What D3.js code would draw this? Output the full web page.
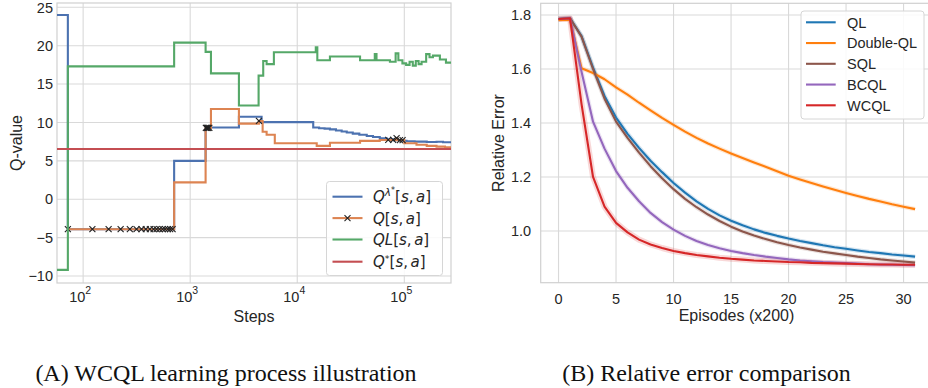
<!DOCTYPE html>
<html>
<head>
<meta charset="utf-8">
<title>WCQL learning process / relative error</title>
<script src="https://d3js.org/d3.v7.min.js"></script>
<style>
  body { margin: 0; background: #fff; }
  svg text { font-family: "Liberation Sans", Arial, sans-serif; fill: #262626; }
  .grid line { stroke: #d9d9d9; stroke-width: 1.1; }
  .frame { fill: none; stroke: #d0d0d0; stroke-width: 1.2; }
  .math { font-family: "DejaVu Sans", sans-serif; font-size: 15px; }
  .caption { font-family: "Liberation Serif", "Times New Roman", serif; font-size: 24px; fill: #111; }
</style>
</head>
<body>
<script>
// ---------- (A) learning process: values are step functions over log(steps) ----------
var qlamSteps = [50, 72, 708, 1393, 2852, 4645, 14100, 16000, 18000, 20200, 23000, 26000, 29000, 33000, 38000, 44600,
                 51000, 59000, 68500, 80000, 92000, 105000, 125000, 162000, 200000, 230000, 273000];
var qlamVals  = [24.0, -3.9, 5.0, 9.35, 10.75, 10.05, 9.35, 9.25, 9.2, 9.1, 8.95, 8.82, 8.7, 8.55, 8.4, 8.24,
                 8.1, 7.95, 7.82, 7.7, 7.62, 7.55, 7.5, 7.45, 7.48, 7.42, 7.42];

var qSteps = [72, 708, 1393, 1563, 2852, 4385, 4750, 5175, 6170, 15200, 20200, 38600, 59000, 84000, 86000,
              100000, 130000, 162000, 200000, 240000, 273000];
var qVals  = [-3.9, 2.2, 9.3, 11.75, 9.85, 10.2, 8.8, 8.4, 7.3, 6.95, 7.35, 7.6, 7.72, 7.95, 7.7,
              7.3, 7.1, 6.95, 6.85, 6.75, 6.75];
// steps where Q[s,a] carries an "x" marker
var qMarkSteps = [72, 122, 173, 224, 273, 315, 351, 385, 420, 455, 485, 517, 552, 583, 619, 650, 685,
                  1400, 1425, 1450, 1475, 1510, 4385, 70800, 78700, 84700, 91000, 96400];

var qlSteps = [50, 72, 708, 1393, 1563, 2852, 4355, 4810, 5175, 6050, 14900, 15400, 20200, 38600, 53000, 55000,
               73400, 83000, 88000, 96000, 104000, 112000, 120000, 128000, 136000, 145000, 160000, 172000,
               185000, 215000, 245000, 273000];
var qlVals  = [-9.2, 17.3, 20.4, 19.2, 16.4, 12.2, 16.1, 18.0, 17.6, 19.15, 19.8, 18.1, 18.6, 18.1, 18.9, 18.1,
               17.9, 19.0, 18.1, 17.7, 17.5, 17.9, 17.4, 18.0, 17.6, 17.9, 18.9, 18.5,
               18.7, 18.2, 17.8, 17.8];

var qStar = 6.55;

var leftYTicks = [-10, -5, 0, 5, 10, 15, 20, 25];
var leftXTicks = [100, 1000, 10000, 100000];

// ---------- (B) relative error vs episodes (x200) ----------
var episodes = d3.range(0, 32);
var errQL     = [1.785, 1.788, 1.722, 1.605, 1.500, 1.420, 1.360, 1.308, 1.260, 1.218, 1.178, 1.142, 1.110, 1.082, 1.058, 1.038,
                 1.021, 1.006, 0.993, 0.982, 0.972, 0.963, 0.955, 0.947, 0.940, 0.934, 0.928, 0.922, 0.918, 0.913, 0.909, 0.905];
var errDouble = [1.782, 1.782, 1.603, 1.585, 1.562, 1.532, 1.505, 1.475, 1.447, 1.419, 1.393, 1.368, 1.345, 1.324, 1.305, 1.287,
                 1.270, 1.254, 1.238, 1.221, 1.205, 1.191, 1.178, 1.165, 1.153, 1.141, 1.130, 1.119, 1.109, 1.099, 1.090, 1.081];
var errSQL    = [1.785, 1.788, 1.720, 1.600, 1.490, 1.405, 1.345, 1.290, 1.240, 1.195, 1.155, 1.119, 1.088, 1.061, 1.037, 1.016,
                 0.998, 0.983, 0.970, 0.958, 0.948, 0.939, 0.931, 0.923, 0.917, 0.911, 0.905, 0.900, 0.895, 0.891, 0.887, 0.883];
var errBCQL   = [1.785, 1.788, 1.590, 1.405, 1.305, 1.222, 1.160, 1.110, 1.067, 1.033, 1.005, 0.982, 0.963, 0.948, 0.936, 0.926,
                 0.918, 0.911, 0.905, 0.900, 0.895, 0.891, 0.888, 0.885, 0.883, 0.881, 0.879, 0.877, 0.876, 0.875, 0.874, 0.873];
var errWCQL   = [1.785, 1.788, 1.470, 1.200, 1.090, 1.030, 0.995, 0.968, 0.950, 0.937, 0.926, 0.918, 0.911, 0.906, 0.901, 0.897,
                 0.894, 0.891, 0.889, 0.887, 0.885, 0.884, 0.882, 0.881, 0.880, 0.879, 0.878, 0.877, 0.876, 0.876, 0.875, 0.875];
var rightNames = ["QL", "Double-QL", "SQL", "BCQL", "WCQL"];
var rightYTicks = [1.0, 1.2, 1.4, 1.6, 1.8];
var rightXTicks = [0, 5, 10, 15, 20, 25, 30];

var svg = d3.select("body").append("svg").attr("width", 928).attr("height", 388);
var defs = svg.append("defs");

function minus(v) { return String(v).replace("-", "\u2212"); }

// ===================== chart A =====================
var A = { left: 57, right: 451, top: 3, bottom: 283 };
var xA = d3.scaleLog().domain([57, 273000]).range([A.left, A.right]);
var yA = d3.scaleLinear().domain([-10.91, 25.56]).range([A.bottom, A.top]);

defs.append("clipPath").attr("id", "clipA").append("rect")
  .attr("x", A.left).attr("y", A.top).attr("width", A.right - A.left).attr("height", A.bottom - A.top);

var gA = svg.append("g");
var gridA = gA.append("g").attr("class", "grid");
gridA.selectAll(".gy").data(leftYTicks).enter().append("line")
  .attr("x1", A.left).attr("x2", A.right).attr("y1", d => yA(d)).attr("y2", d => yA(d));
gridA.selectAll(".gx").data(leftXTicks).enter().append("line")
  .attr("y1", A.top).attr("y2", A.bottom).attr("x1", d => xA(d)).attr("x2", d => xA(d));
gA.append("rect").attr("class", "frame")
  .attr("x", A.left).attr("y", A.top).attr("width", A.right - A.left).attr("height", A.bottom - A.top);

// y tick labels
gA.selectAll(".yl").data(leftYTicks).enter().append("text")
  .attr("x", A.left - 4).attr("y", d => yA(d) + 5.2)
  .attr("text-anchor", "end").style("font-size", "14.5px")
  .text(d => minus(d));
// x tick labels 10^k
leftXTicks.forEach(function (t) {
  var tx = gA.append("text").attr("x", xA(t) - 3).attr("y", 302)
    .attr("text-anchor", "middle").style("font-size", "14.5px");
  tx.append("tspan").text("10");
  tx.append("tspan").attr("dy", -8.5).style("font-size", "10.5px").text(Math.round(Math.log10(t)));
});
gA.append("text").attr("x", (A.left + A.right) / 2).attr("y", 322)
  .attr("text-anchor", "middle").style("font-size", "16px").text("Steps");
gA.append("text").attr("transform", "translate(22,143) rotate(-90)")
  .attr("text-anchor", "middle").style("font-size", "16px").text("Q-value");

var stepLine = d3.line().curve(d3.curveStepAfter).x(d => xA(d[0])).y(d => yA(d[1]));
var colA = { qlam: "#4c72b0", q: "#dd8452", ql: "#55a868", star: "#c44e52" };

var plotA = gA.append("g").attr("clip-path", "url(#clipA)");
function drawStep(steps, vals, color) {
  plotA.append("path").datum(d3.zip(steps, vals))
    .attr("d", stepLine).attr("fill", "none").attr("stroke", color)
    .attr("stroke-width", 2.1).attr("stroke-linejoin", "miter");
}
drawStep(qlamSteps, qlamVals, colA.qlam);
drawStep(qSteps, qVals, colA.q);

// x markers on Q[s,a]
function qAt(s) {
  var i = d3.bisectRight(qSteps, s) - 1;
  return qVals[Math.max(0, i)];
}
function xMark(sel, cx, cy) {
  var r = 3;
  sel.append("path")
    .attr("d", "M" + (cx - r) + "," + (cy - r) + "L" + (cx + r) + "," + (cy + r) +
               "M" + (cx - r) + "," + (cy + r) + "L" + (cx + r) + "," + (cy - r))
    .attr("stroke", "#222").attr("stroke-width", 1.1).attr("fill", "none");
}
qMarkSteps.forEach(function (s) { xMark(plotA, xA(s), yA(qAt(s))); });

drawStep(qlSteps, qlVals, colA.ql);
plotA.append("line").attr("x1", A.left).attr("x2", A.right)
  .attr("y1", yA(qStar)).attr("y2", yA(qStar))
  .attr("stroke", colA.star).attr("stroke-width", 2.1);

// legend A
var legA = gA.append("g");
legA.append("rect").attr("x", 326.5).attr("y", 181.5).attr("width", 116).attr("height", 94)
  .attr("rx", 3).attr("fill", "rgba(255,255,255,0.85)").attr("stroke", "#d6d6d6");
var legAItems = [
  { color: colA.qlam, parts: [["Q", 1], ["\u03bb", 1, -6, 10.5], ["*", 0, -3, 8], ["[", 0, 9, 15], ["s", 1], [",", 0], ["a", 1, 0, 15, 2.5], ["]", 0]] },
  { color: colA.q, mark: true, parts: [["Q", 1], ["[", 0], ["s", 1], [",", 0], ["a", 1, 0, 15, 2.5], ["]", 0]] },
  { color: colA.ql, parts: [["Q", 1], ["L", 1], ["[", 0], ["s", 1], [",", 0], ["a", 1, 0, 15, 2.5], ["]", 0]] },
  { color: colA.star, parts: [["Q", 1], ["*", 0, -5, 9.5], ["[", 0, 5, 15], ["s", 1], [",", 0], ["a", 1, 0, 15, 2.5], ["]", 0]] }
];
legAItems.forEach(function (it, i) {
  var yy = 196.7 + i * 21.4 + (i === 3 ? 0.8 : 0);
  legA.append("line").attr("x1", 332.5).attr("x2", 362.5).attr("y1", yy).attr("y2", yy)
    .attr("stroke", it.color).attr("stroke-width", 2.1);
  if (it.mark) xMark(legA, 347.5, yy);
  var t = legA.append("text").attr("class", "math").attr("x", 373).attr("y", yy + 5.5);
  it.parts.forEach(function (p) {
    var ts = t.append("tspan").text(p[0]);
    if (p[1]) ts.style("font-style", "italic");
    if (p[2]) ts.attr("dy", p[2]);
    if (p[3]) ts.style("font-size", p[3] + "px");
    if (p[4]) ts.attr("dx", p[4]);
  });
});

// ===================== chart B =====================
var B = { left: 540.7, right: 932.9, top: 3.3, bottom: 282.7 };
var xB = d3.scaleLinear().domain([-1.55, 32.55]).range([B.left, B.right]);
var yB = d3.scaleLinear().domain([0.8085, 1.8433]).range([B.bottom, B.top]);

defs.append("clipPath").attr("id", "clipB").append("rect")
  .attr("x", B.left).attr("y", B.top).attr("width", B.right - B.left).attr("height", B.bottom - B.top);

var gB = svg.append("g");
var gridB = gB.append("g").attr("class", "grid");
gridB.selectAll(".gy").data(rightYTicks).enter().append("line")
  .attr("x1", B.left).attr("x2", B.right).attr("y1", d => yB(d)).attr("y2", d => yB(d));
gridB.selectAll(".gx").data(rightXTicks).enter().append("line")
  .attr("y1", B.top).attr("y2", B.bottom).attr("x1", d => xB(d)).attr("x2", d => xB(d));
gB.append("rect").attr("class", "frame")
  .attr("x", B.left).attr("y", B.top).attr("width", B.right - B.left).attr("height", B.bottom - B.top);

gB.selectAll(".yl").data(rightYTicks).enter().append("text")
  .attr("x", B.left - 9.5).attr("y", d => yB(d) + 5.2)
  .attr("text-anchor", "end").style("font-size", "14.5px")
  .text(d => d.toFixed(1));
gB.selectAll(".xl").data(rightXTicks).enter().append("text")
  .attr("x", d => xB(d)).attr("y", 303.5)
  .attr("text-anchor", "middle").style("font-size", "14.5px")
  .text(d => d);
gB.append("text").attr("x", 736.5).attr("y", 320.5)
  .attr("text-anchor", "middle").style("font-size", "16px").text("Episodes (x200)");
gB.append("text").attr("transform", "translate(503.5,143) rotate(-90)")
  .attr("text-anchor", "middle").style("font-size", "16px").text("Relative Error");

var colB = ["#1f77b4", "#ff7f0e", "#8c564b", "#9467bd", "#d62728"];
var seriesB = [errQL, errDouble, errSQL, errBCQL, errWCQL];
var lineB = d3.line().x(d => xB(d[0])).y(d => yB(d[1]));
var plotB = gB.append("g").attr("clip-path", "url(#clipB)");
seriesB.forEach(function (vals, i) {
  var pts = d3.zip(episodes, vals);
  // faint confidence band
  plotB.append("path").datum(pts).attr("d", lineB).attr("fill", "none")
    .attr("stroke", colB[i]).attr("stroke-opacity", 0.18).attr("stroke-width", i === 4 ? 6 : 4.5)
    .attr("stroke-linejoin", "round");
});
seriesB.forEach(function (vals, i) {
  plotB.append("path").datum(d3.zip(episodes, vals)).attr("d", lineB).attr("fill", "none")
    .attr("stroke", colB[i]).attr("stroke-width", 2.1).attr("stroke-linejoin", "round");
});

// legend B
var legB = gB.append("g");
legB.append("rect").attr("x", 801).attr("y", 11).attr("width", 123).attr("height", 108)
  .attr("rx", 3).attr("fill", "rgba(255,255,255,0.85)").attr("stroke", "#d6d6d6");
rightNames.forEach(function (n, i) {
  var yy = 22.3 + i * 20.75;
  legB.append("line").attr("x1", 806).attr("x2", 835.7).attr("y1", yy).attr("y2", yy)
    .attr("stroke", colB[i]).attr("stroke-width", 2.1);
  legB.append("text").attr("x", 847).attr("y", yy + 5.2).style("font-size", "14.5px").text(n);
});

// captions
svg.append("text").attr("class", "caption").attr("x", 226).attr("y", 381)
  .attr("text-anchor", "middle").text("(A) WCQL learning process illustration");
svg.append("text").attr("class", "caption").attr("x", 706.5).attr("y", 381)
  .attr("text-anchor", "middle").text("(B) Relative error comparison");
</script>
</body>
</html>
